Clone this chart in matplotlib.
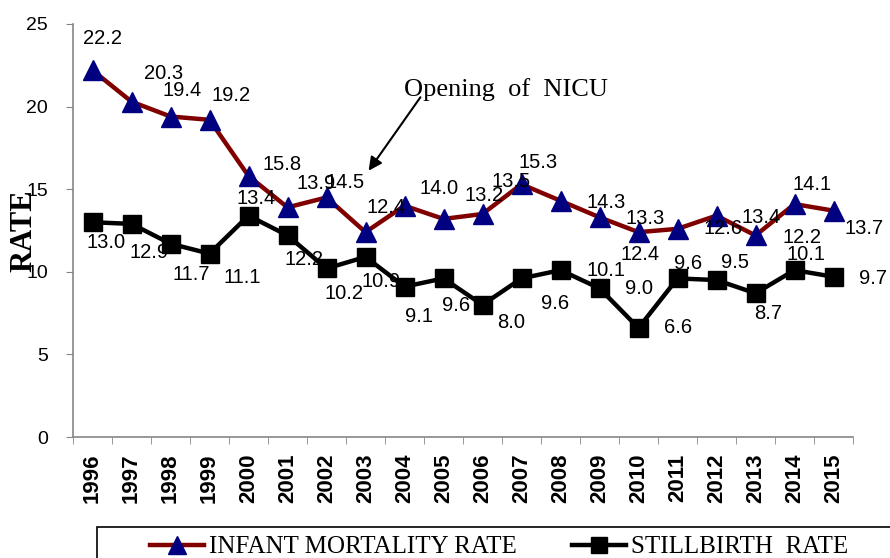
import matplotlib
matplotlib.use("Agg")
import matplotlib.pyplot as plt
from matplotlib.lines import Line2D
from matplotlib.patches import Rectangle

years = ["1996", "1997", "1998", "1999", "2000", "2001", "2002", "2003", "2004", "2005",
         "2006", "2007", "2008", "2009", "2010", "2011", "2012", "2013", "2014", "2015"]
infant = [22.2, 20.3, 19.4, 19.2, 15.8, 13.9, 14.5, 12.4, 14.0, 13.2,
          13.5, 15.3, 14.3, 13.3, 12.4, 12.6, 13.4, 12.2, 14.1, 13.7]
stillbirth = [13.0, 12.9, 11.7, 11.1, 13.4, 12.2, 10.2, 10.9, 9.1, 9.6,
              8.0, 9.6, 10.1, 9.0, 6.6, 9.6, 9.5, 8.7, 10.1, 9.7]

# label offsets in pixels (dx right, dy down)
inf_off = [(10, -32), (32, -28), (12, -26), (22, -24), (34, -11), (29, -24), (19, -15),
           (21, -25), (35, -17), (41, -23), (29, -32), (17, -22), (46, 2), (46, 1),
           (2, 22), (46, 0), (45, 2), (46, 2), (18, -20), (31, 18)]
sb_off = [(14, 20), (18, 29), (21, 31), (33, 24), (8, -17), (17, 24), (18, 25), (16, 25),
          (15, 30), (13, 27), (29, 18), (34, 25), (45, 0), (39, 0), (40, 0), (11, -15),
          (19, -18), (13, 20), (11, -16), (39, 2)]

W, H = 890, 558
fig = plt.figure(figsize=(W / 100, H / 100), dpi=100)
ax = fig.add_axes([73 / W, 1 - 437 / H, (853 - 73) / W, (437 - 24) / H])

x = list(range(len(years)))
red = "#800000"
navy = "#000080"
ax.plot(x, infant, color=red, lw=3.2, marker="^", ms=14, mfc=navy, mec=navy,
        label="INFANT MORTALITY RATE", zorder=3)
ax.plot(x, stillbirth, color="black", lw=3.2, marker="s", ms=13, mfc="black", mec="black",
        label="STILLBIRTH  RATE", zorder=3)

lab_font = dict(family=["Liberation Sans", "DejaVu Sans"], fontsize=14.5)
for xi, v, (dx, dy) in zip(x, infant, inf_off):
    ax.annotate(f"{v:.1f}", (xi, v), xytext=(dx, -dy), textcoords="offset pixels",
                ha="center", va="center", zorder=4, **lab_font)
for xi, v, (dx, dy) in zip(x, stillbirth, sb_off):
    ax.annotate(f"{v:.1f}", (xi, v), xytext=(dx, -dy), textcoords="offset pixels",
                ha="center", va="center", zorder=4, **lab_font)

ax.set_xlim(-0.5, len(years) - 0.5)
ax.set_ylim(0, 25)
ax.set_yticks([0, 5, 10, 15, 20, 25])
ax.set_yticklabels(["0", "5", "10", "15", "20", "25"], family="Liberation Sans", fontsize=14)
ax.set_xticks(x)
ax.set_xticklabels(years, rotation=90, family="Liberation Sans", fontweight="bold",
                   fontsize=16, va="top", ha="center")
ax.set_xticks([i - 0.5 for i in range(len(years) + 1)], minor=True)
ax.tick_params(axis="x", which="major", length=0, pad=12)
ax.tick_params(axis="x", which="minor", length=5, color="#868686", direction="out")
ax.tick_params(axis="y", length=5, color="#868686", direction="out", pad=13)

for s in ["top", "right"]:
    ax.spines[s].set_visible(False)
for s in ["left", "bottom"]:
    ax.spines[s].set_color("#868686")
    ax.spines[s].set_linewidth(1.2)

fig.text(24 / W, 1 - 231 / H, "RATE", rotation=90, ha="center", va="center",
         family="Liberation Serif", fontweight="bold", fontsize=22)

ax.annotate("", xy=(367, H - 173), xycoords="figure pixels",
            xytext=(422, H - 95), textcoords="figure pixels",
            arrowprops=dict(arrowstyle="-|>", color="black", lw=1.5, mutation_scale=20))
fig.text(506 / W, 1 - 90 / H, "Opening  of  NICU", ha="center", va="center",
         family="Liberation Serif", fontsize=19)

fig.patches.append(Rectangle((97 / W, -0.1), 1.0, (H - 527) / H + 0.1, transform=fig.transFigure,
                             fill=False, edgecolor="black", lw=1.2, clip_on=False))
handles = [Line2D([], [], color=red, lw=3.2, marker="^", ms=13, mfc=navy, mec=navy),
           Line2D([], [], color="black", lw=3.2, marker="s", ms=12, mfc="black", mec="black")]
fig.legend(handles, ["INFANT MORTALITY RATE", "STILLBIRTH  RATE"], ncol=2,
           loc="center left", bbox_to_anchor=(150 / W, 1 - 547 / H), frameon=False,
           borderpad=0, borderaxespad=0, handlelength=2.17, handletextpad=0.2,
           columnspacing=2.18, prop=dict(family="Liberation Serif", size=18))

fig.savefig("out.png", dpi=100)
